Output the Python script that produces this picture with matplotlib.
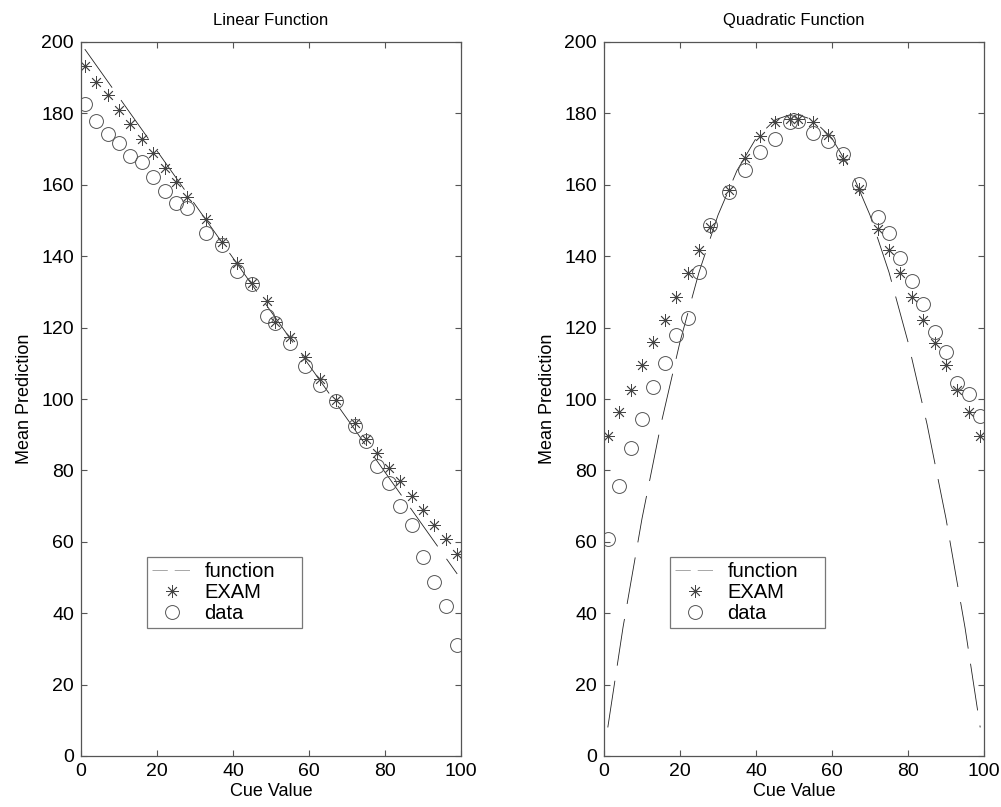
import matplotlib
matplotlib.use("Agg")
import matplotlib.pyplot as plt
from matplotlib.lines import Line2D

plt.rcParams['font.family'] = ['Liberation Sans', 'DejaVu Sans']
plt.rcParams['lines.scale_dashes'] = False

# cue values used in both panels
cue = [1, 4, 7, 10, 13, 16, 19, 22, 25, 28, 33, 37, 41, 45, 49,
       51, 55, 59, 63, 67, 72, 75, 78, 81, 84, 87, 90, 93, 96, 99]

# x positions for the true function curves
func_x = [1, 5, 10, 15, 20, 25, 30, 35, 40, 45, 50,
          55, 60, 65, 70, 75, 80, 85, 90, 95, 99]

# Linear panel
lin_func = [198, 192, 184.5, 177, 169.5, 162, 154.5, 147, 139.5, 132, 124.5,
            117, 109.5, 102, 94.5, 87, 79.5, 72, 64.5, 57, 51]
lin_exam = [193.3, 188.9, 185.2, 181, 176.9, 172.8, 169, 164.8, 160.9, 156.7,
            150.3, 144, 138, 132.4, 127.5, 121.6, 117.5, 111.7, 105.5, 99.7,
            93.2, 88.8, 85, 80.8, 77, 72.8, 68.9, 64.7, 60.9, 56.6]
lin_data = [182.6, 178, 174.2, 171.6, 168.1, 166.4, 162.3, 158.3, 155, 153.6,
            146.5, 143, 135.9, 132.1, 123.3, 121.3, 115.8, 109.2, 103.9, 99.5,
            92.3, 88.2, 81.3, 76.6, 70.1, 64.7, 55.8, 48.8, 42.1, 31.1]

# Quadratic panel
quad_func = [8, 36, 66.5, 93, 116, 135.5, 151.5, 164, 173, 178.2, 180,
             178.2, 173, 164, 151.5, 135.5, 116, 93, 66.5, 36, 8]
quad_exam = [89.7, 96.3, 102.5, 109.4, 115.9, 122.1, 128.7, 135.4, 141.7, 148.1,
             158.5, 167.4, 173.7, 177.7, 178.3, 178.3, 177.5, 174, 167.2, 158.8,
             147.6, 141.6, 135.2, 128.6, 122.1, 115.8, 109.5, 102.5, 96.3, 89.7]
quad_data = [60.8, 75.7, 86.4, 94.4, 103.3, 110.2, 117.9, 122.6, 135.7, 148.6,
             157.9, 164.2, 169.2, 172.8, 177.6, 178, 174.6, 172.4, 168.6, 160.2,
             151, 146.5, 139.5, 133, 126.5, 118.8, 113.1, 104.4, 101.3, 95.3]

panels = [
    ("Linear Function", lin_func, lin_exam, lin_data),
    ("Quadratic Function", quad_func, quad_exam, quad_data),
]

fig = plt.figure(figsize=(10.01, 8.07), dpi=100)
lefts = [81 / 1001, 604 / 1001]
w = 380 / 1001
b = 51 / 807
h = 714 / 807

star = (8, 2, 0)
spine_col = '#555555'
star_col = '#444444'
circ_col = '#555555'

for (title, fy, ey, dy), left in zip(panels, lefts):
    ax = fig.add_axes([left, b, w, h])
    ax.plot(func_x, fy, color='#222222', lw=0.6, dashes=(34, 11))
    ax.plot(cue, ey, ls='none', marker=star, ms=9, mec=star_col, mew=0.6)
    ax.plot(cue, dy, ls='none', marker='o', ms=10, mfc='none',
            mec=circ_col, mew=0.7)

    ax.set_xlim(0, 100)
    ax.set_ylim(0, 200)
    ax.set_xticks([0, 20, 40, 60, 80, 100])
    ax.set_yticks(range(0, 201, 20))
    ax.tick_params(direction='in', top=True, right=True, length=4,
                   width=0.8, color=spine_col, labelsize=14, pad=5)
    for s in ax.spines.values():
        s.set_color(spine_col)
        s.set_linewidth(0.9)

    ax.set_title(title, fontsize=12, pad=12)
    ax.set_xlabel("Cue Value", fontsize=13, labelpad=2)
    ax.set_ylabel("Mean Prediction", fontsize=13, labelpad=6)

    handles = [
        Line2D([], [], color='#999999', lw=0.6, dashes=(11, 5)),
        Line2D([], [], ls='none', marker=star, ms=9, mec=star_col, mew=0.6),
        Line2D([], [], ls='none', marker='o', ms=10, mfc='none',
               mec=circ_col, mew=0.7),
    ]
    leg = ax.legend(handles, ["function", "EXAM", "data"],
                    loc='lower left', bbox_to_anchor=(0.174, 0.179, 0.408, 0.112),
                    mode='expand', fontsize=14.5, frameon=True, fancybox=False,
                    borderpad=0.25, handlelength=2.0, handletextpad=0.6,
                    labelspacing=0.1, borderaxespad=0)
    leg.get_frame().set_edgecolor(spine_col)
    leg.get_frame().set_linewidth(0.9)

fig.savefig("out.png", dpi=100)
